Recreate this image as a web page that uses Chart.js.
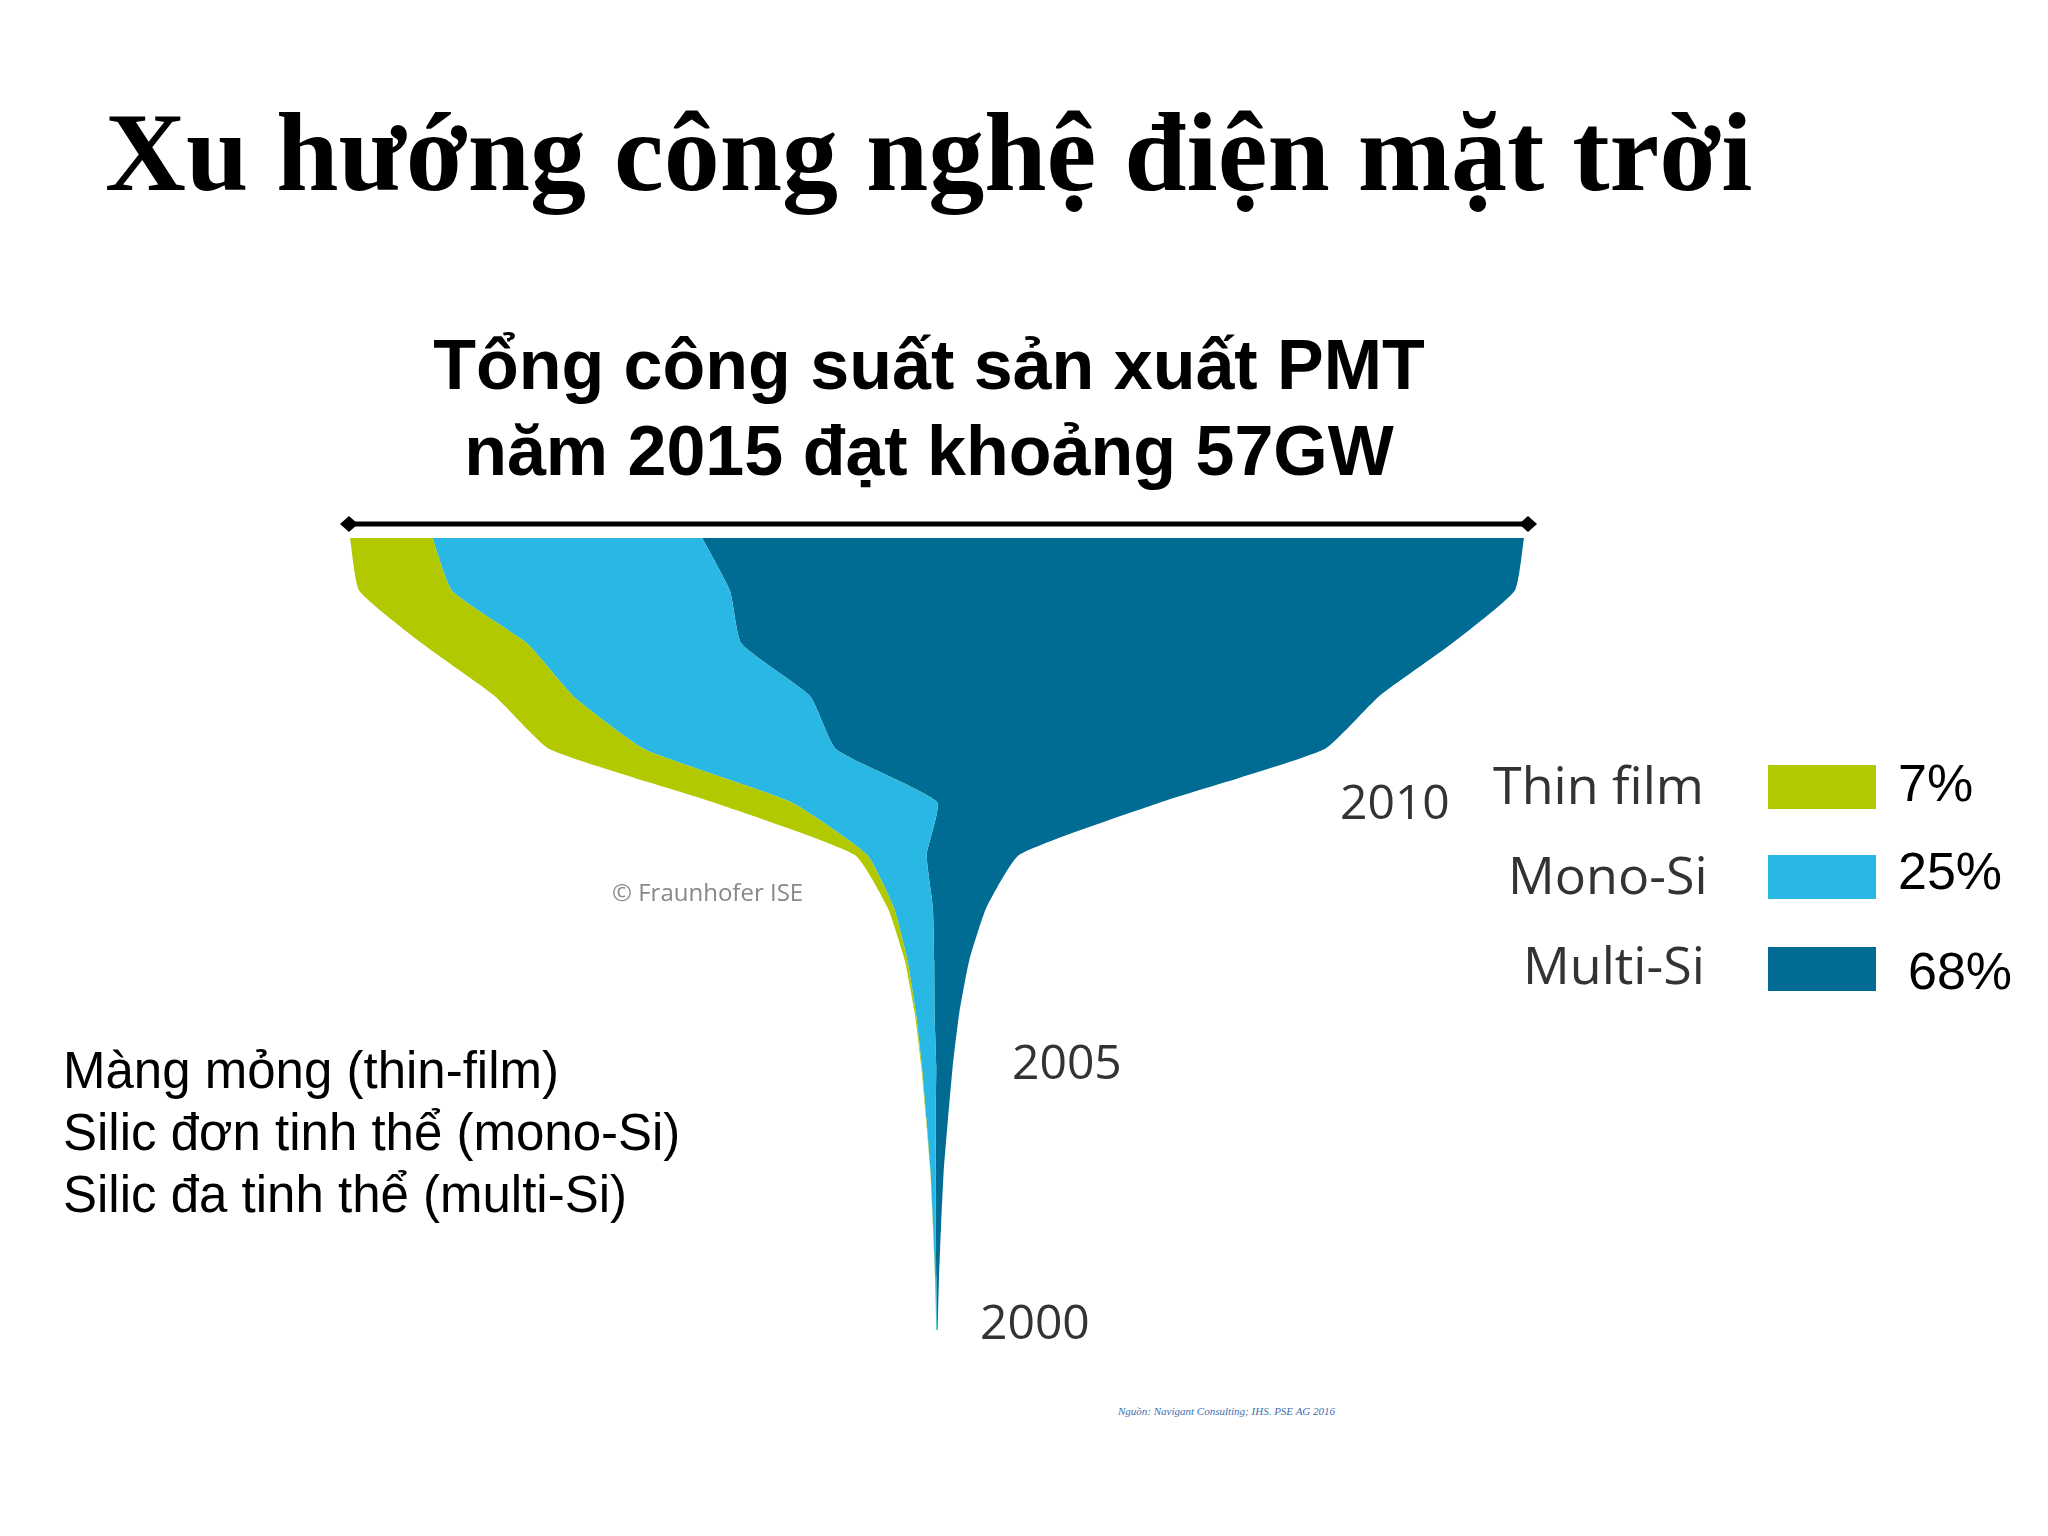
<!DOCTYPE html>
<html><head><meta charset="utf-8">
<script src="https://cdn.jsdelivr.net/npm/chart.js@4"></script>
<style>
body{margin:0;width:2048px;height:1536px;background:#fff;position:relative;overflow:hidden;font-family:"Liberation Sans",Arial,sans-serif}
.t{position:absolute;white-space:nowrap}
</style></head><body>
<div class="t" style="left:105px;top:88px;font-family:'Liberation Serif',serif;font-weight:bold;font-size:112px">Xu hướng công nghệ điện mặt trời</div>
<div class="t" style="left:0;width:1858px;top:322px;text-align:center;font-weight:bold;font-size:70px;line-height:86px">Tổng công suất sản xuất PMT<br>năm 2015 đạt khoảng 57GW</div>
<svg style="position:absolute;left:0;top:0" width="2048" height="1536">
<line x1="349" y1="524" x2="1528" y2="524" stroke="#000" stroke-width="5"/>
<polygon points="340,524 349,516 358,524 349,532" fill="#000"/>
<polygon points="1519,524 1528,516 1537,524 1528,532" fill="#000"/>
</svg>
<div style="position:absolute;left:350px;top:538px;width:1174px;height:792px"><canvas id="c"></canvas></div>
<div class="t" style="left:1340px;top:768px;font-family:'Open Sans';font-size:48px;color:#333">2010</div>
<div class="t" style="left:1012px;top:1028px;font-family:'Open Sans';font-size:48px;color:#333">2005</div>
<div class="t" style="left:980px;top:1288px;font-family:'Open Sans';font-size:48px;color:#333">2000</div>
<div class="t" style="left:612px;top:875px;font-family:'Open Sans';font-size:24px;color:#888">© Fraunhofer ISE</div>
<div class="t" style="left:1493px;top:748px;font-family:'Open Sans';font-size:52px;color:#333">Thin film</div>
<div class="t" style="left:1508px;top:838px;font-family:'Open Sans';font-size:52px;color:#333">Mono-Si</div>
<div class="t" style="left:1523px;top:928px;font-family:'Open Sans';font-size:52px;color:#333">Multi-Si</div>
<div style="position:absolute;left:1768px;top:765px;width:108px;height:44px;background:#b2c800"></div>
<div style="position:absolute;left:1768px;top:855px;width:108px;height:44px;background:#29b8e3"></div>
<div style="position:absolute;left:1768px;top:947px;width:108px;height:44px;background:#006b93"></div>
<div class="t" style="left:1898px;top:753px;font-size:52px">7%</div>
<div class="t" style="left:1898px;top:841px;font-size:52px">25%</div>
<div class="t" style="left:1908px;top:941px;font-size:52px">68%</div>
<div class="t" style="left:63px;top:1040px;font-size:51px;line-height:62px">Màng mỏng (thin-film)<br>Silic đơn tinh thể (mono-Si)<br>Silic đa tinh thể (multi-Si)</div>
<div class="t" style="left:1118px;top:1405px;font-family:'Liberation Serif',serif;font-style:italic;font-size:11px;color:#3a6fb0">Nguồn: Navigant Consulting; IHS. PSE AG 2016</div>
<script>
const years=[2000,2001,2002,2003,2004,2005,2006,2007,2008,2009,2010,2011,2012,2013,2014,2015];
const thinFilm=[0,0.005,0.01,0.01,0.02,0.03,0.06,0.13,0.3,0.6,3.8,4.6,3.8,5.1,4.5,4.0];
const monoSi=[0.03,0.06,0.13,0.26,0.45,0.7,0.9,1.3,1.9,2.9,7.1,9.3,11.5,10.4,13.5,13.1];
const multiSi=[0.03,0.13,0.26,0.38,0.6,0.8,1.2,1.7,2.6,4.5,10.9,23.7,27.6,34.5,38.1,39.9];
const total=years.map((y,i)=>thinFilm[i]+monoSi[i]+multiSi[i]);
const e0=years.map((y,i)=>({y,x:-total[i]/2}));
const e1=years.map((y,i)=>({y,x:-total[i]/2+thinFilm[i]}));
const e2=years.map((y,i)=>({y,x:-total[i]/2+thinFilm[i]+monoSi[i]}));
const e3=years.map((y,i)=>({y,x:total[i]/2}));
const ds=(d,c,f)=>({data:d,borderWidth:0,borderColor:c,backgroundColor:c,pointRadius:0,fill:f,tension:0.15});
new Chart(document.getElementById('c'),{type:'line',
data:{datasets:[ds(e0,'#b2c800',false),ds(e1,'#b2c800','-1'),ds(e2,'#29b8e3','-1'),ds(e3,'#006b93','-1')]},
options:{indexAxis:'y',responsive:true,maintainAspectRatio:false,animation:false,
layout:{padding:0},
plugins:{legend:{display:false},tooltip:{enabled:false}},
scales:{x:{type:'linear',min:-28.5,max:28.5,display:false},y:{type:'linear',min:2000,max:2015,display:false}}}});
</script>
</body></html>
